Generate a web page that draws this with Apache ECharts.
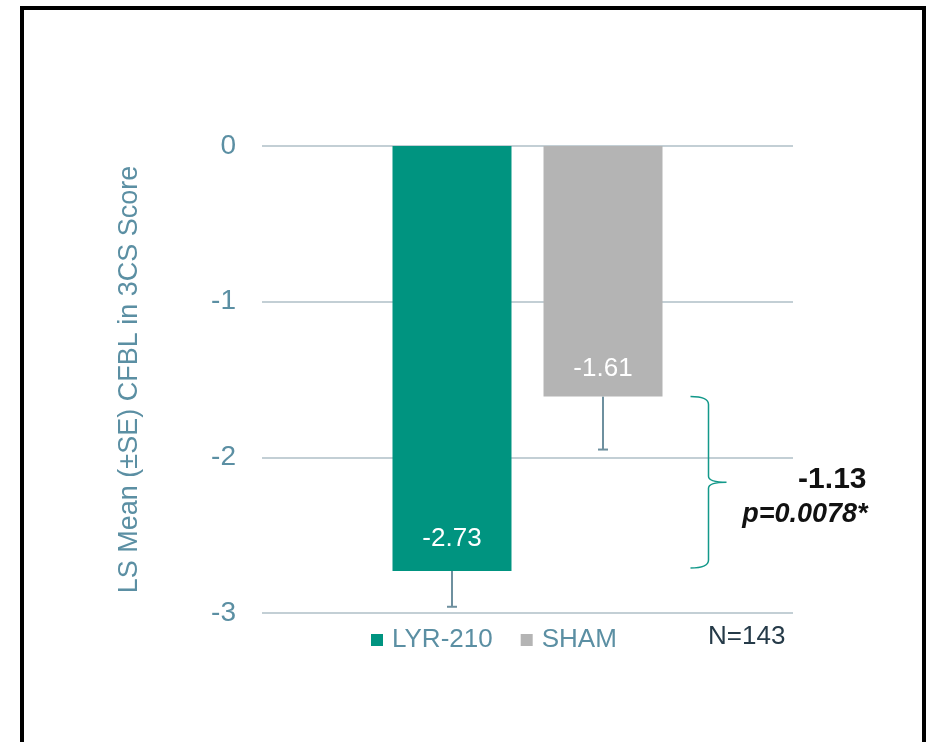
<!DOCTYPE html>
<html>
<head>
<meta charset="utf-8">
<script src="https://cdn.jsdelivr.net/npm/echarts@6/dist/echarts.min.js"></script>
<style>
  html, body { margin: 0; padding: 0; background: #fff; }
  #chart { width: 937px; height: 742px; }
</style>
</head>
<body>
<div id="chart"></div>
<script>
// LS mean change from baseline, 3CS score
var categories = ['3CS'];
var seriesNames = ['LYR-210', 'SHAM'];
var lyrValues = [-2.73];
var shamValues = [-1.61];
var seValues = [0.23, 0.34];
var diffLabel = '-1.13';
var pLabel = 'p=0.0078*';
var nLabel = 'N=143';
var yTicks = { min: -3, max: 0, interval: 1 };

var TEAL = '#009480';
var GRAY = '#b4b4b4';
var AXIS_TEXT = '#5b8fa3';
var BAR_W = 119;
var BAR_GAP = 32;
var FONT = '"Liberation Sans", Arial, sans-serif';

var chart = echarts.init(document.getElementById('chart'));

function barCenter(api, idx, value) {
  var p = api.coord([0, value]);
  var off = (BAR_W + BAR_GAP) / 2;
  return [p[0] + (idx === 0 ? -off : off), p[1]];
}

var errData = [
  [0, lyrValues[0], seValues[0], 0],
  [0, shamValues[0], seValues[1], 1]
];

var option = {
  animation: false,
  textStyle: { fontFamily: FONT },
  color: [TEAL, GRAY],
  grid: { left: 262, right: 144, top: 146, bottom: 129 },
  legend: {
    data: seriesNames,
    left: 366,
    top: 622,
    icon: 'rect',
    itemWidth: 12,
    itemHeight: 12,
    itemGap: 28,
    textStyle: { color: AXIS_TEXT, fontSize: 26, fontFamily: FONT, padding: [0, 0, 0, 4] }
  },
  xAxis: {
    type: 'category',
    data: categories,
    axisLine: { show: false },
    axisTick: { show: false },
    axisLabel: { show: false }
  },
  yAxis: {
    type: 'value',
    min: yTicks.min,
    max: yTicks.max,
    interval: yTicks.interval,
    name: 'LS Mean (±SE) CFBL in 3CS Score',
    nameLocation: 'middle',
    nameGap: 119,
    nameTextStyle: { color: AXIS_TEXT, fontSize: 27, fontFamily: FONT },
    axisLine: { show: false },
    axisTick: { show: false },
    axisLabel: { color: AXIS_TEXT, fontSize: 28, margin: 26, fontFamily: FONT },
    splitLine: { lineStyle: { color: '#c3cfd5', width: 2 } }
  },
  series: [
    {
      name: seriesNames[0],
      type: 'bar',
      data: lyrValues,
      barWidth: BAR_W,
      barGap: (BAR_GAP / BAR_W * 100).toFixed(1) + '%',
      itemStyle: { color: TEAL },
      label: {
        show: true, position: 'insideBottom', distance: 19,
        color: '#fff', fontSize: 26, fontFamily: FONT,
        formatter: function (p) { return p.value.toFixed(2); }
      }
    },
    {
      name: seriesNames[1],
      type: 'bar',
      data: shamValues,
      barWidth: BAR_W,
      itemStyle: { color: GRAY },
      label: {
        show: true, position: 'insideBottom', distance: 15,
        color: '#fff', fontSize: 26, fontFamily: FONT,
        formatter: function (p) { return p.value.toFixed(2); }
      }
    },
    {
      // error bars (downward only)
      type: 'custom',
      silent: true,
      z: 1,
      data: errData,
      renderItem: function (params, api) {
        var idx = api.value(3);
        var mean = api.value(1);
        var se = api.value(2);
        var top = barCenter(api, idx, mean);
        var bot = barCenter(api, idx, mean - se);
        var style = { stroke: '#6e909f', lineWidth: 2 };
        return {
          type: 'group',
          children: [
            { type: 'line', shape: { x1: top[0], y1: top[1], x2: bot[0], y2: bot[1] }, style: style },
            { type: 'line', shape: { x1: bot[0] - 5, y1: bot[1], x2: bot[0] + 5, y2: bot[1] }, style: style }
          ]
        };
      }
    },
    {
      // brace showing difference between the two means
      type: 'custom',
      silent: true,
      data: [[0, shamValues[0], lyrValues[0]]],
      renderItem: function (params, api) {
        var t = barCenter(api, 1, api.value(1));
        var b = barCenter(api, 1, api.value(2));
        var xl = t[0] + BAR_W / 2 + 28;
        var xs = xl + 18;
        var xt = xs + 18;
        var top = t[1], bot = b[1] - 3, mid = (top + bot) / 2;
        var path = 'M' + xl + ' ' + top + ' Q' + xs + ' ' + top + ' ' + xs + ' ' + (top + 8) +
          ' L' + xs + ' ' + (mid - 6) + ' Q' + xs + ' ' + mid + ' ' + xt + ' ' + mid +
          ' Q' + xs + ' ' + mid + ' ' + xs + ' ' + (mid + 6) +
          ' L' + xs + ' ' + (bot - 8) + ' Q' + xs + ' ' + bot + ' ' + xl + ' ' + bot;
        return {
          type: 'group',
          children: [
            { type: 'path', shape: { pathData: path }, style: { fill: 'none', stroke: '#13998a', lineWidth: 1.5 } },
            { type: 'text', x: xt + 140, y: mid - 3,
              style: { text: diffLabel, fill: '#111', font: 'bold 30px ' + FONT, align: 'right', verticalAlign: 'middle' } },
            { type: 'text', x: xt + 141, y: mid + 32,
              style: { text: pLabel, fill: '#111', font: 'italic bold 27px ' + FONT, align: 'right', verticalAlign: 'middle' } }
          ]
        };
      }
    }
  ],
  graphic: [
    { type: 'rect', shape: { x: 22, y: 8, width: 902, height: 760 },
      style: { fill: 'none', stroke: '#000', lineWidth: 4 }, silent: true },
    { type: 'text', x: 708, y: 637,
      style: { text: nLabel, fill: '#253a48', font: '26px ' + FONT, verticalAlign: 'middle' } }
  ]
};

chart.setOption(option);
</script>
</body>
</html>
